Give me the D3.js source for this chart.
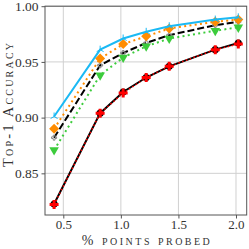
<!DOCTYPE html>
<html lang="en">
<head>
    <meta charset="UTF-8">
    <title>Top-1 accuracy</title>
    <style>
        body{
            margin: 0;
            background-color: #fff;
        }
        svg text{
            font-family: "Liberation Serif", "DejaVu Serif", serif;
            fill: #222;
        }
        .axis path{
            stroke: #555;
        }
        .axis line{
            stroke: #555;
        }
        .grid line{
            stroke: #d0d0d0;
            stroke-width: 1;
        }
    </style>
</head>
<body>

<div id="chart"></div>

<script src="https://cdn.jsdelivr.net/npm/d3@7/dist/d3.min.js"></script>
<script>
    // data
    var pointsProbed = [0.42, 0.82, 1.02, 1.22, 1.42, 1.82, 2.02];
    var cyanAcc = [0.901, 0.961, 0.971, 0.977, 0.982, 0.988, 0.990];
    var orangeAcc = [0.890, 0.953, 0.966, 0.973, 0.980, 0.986, 0.988];
    var dashedAcc = [0.882, 0.947, 0.958, 0.967, 0.974, 0.983, 0.986];
    var greenAcc = [0.871, 0.938, 0.954, 0.964, 0.971, 0.978, 0.981];
    var blackAcc = [0.8225, 0.904, 0.923, 0.936, 0.946, 0.961, 0.967];
    var redAcc = [0.822, 0.904, 0.922, 0.936, 0.946, 0.961, 0.966];
    var xTicks = [0.5, 1.0, 1.5, 2.0];
    var yTicks = [0.85, 0.90, 0.95, 1.00];

    var width = 249, height = 249;
    var mLeft = 45, mRight = 246.7, mTop = 6.2, mBottom = 215;

    var svg = d3.select('#chart')
        .append('svg')
        .attr('width', width)
        .attr('height', height);

    var xScale = d3.scaleLinear()
        .domain([0.341, 2.093])
        .range([mLeft, mRight]);

    var yScale = d3.scaleLinear()
        .domain([0.8126, 1.0])
        .range([mBottom, mTop]);

    // grid
    var grid = svg.append('g').attr('class', 'grid');

    grid.selectAll('line.gx')
        .data(xTicks)
        .enter().append('line')
        .attr('class', 'gx')
        .attr('x1', function(d){ return xScale(d); })
        .attr('x2', function(d){ return xScale(d); })
        .attr('y1', mTop).attr('y2', mBottom);

    grid.selectAll('line.gy')
        .data(yTicks)
        .enter().append('line')
        .attr('class', 'gy')
        .attr('y1', function(d){ return yScale(d); })
        .attr('y2', function(d){ return yScale(d); })
        .attr('x1', mLeft).attr('x2', mRight);

    function series(vals){
        return pointsProbed.map(function(x, i){ return [x, vals[i]]; });
    }

    var line = d3.line()
        .x(function(d){ return xScale(d[0]); })
        .y(function(d){ return yScale(d[1]); });

    function drawLine(vals, color, w, dash){
        svg.append('path')
            .datum(series(vals))
            .attr('d', line)
            .attr('fill', 'none')
            .attr('stroke', color)
            .attr('stroke-width', w)
            .attr('stroke-dasharray', dash || null);
    }

    function drawMarks(vals, symbol, size, fill, stroke, rot){
        svg.append('g')
            .selectAll('path')
            .data(series(vals))
            .enter().append('path')
            .attr('d', d3.symbol().type(symbol).size(size))
            .attr('transform', function(d){
                return 'translate(' + xScale(d[0]) + ',' + yScale(d[1]) + ')' + (rot ? ' rotate(' + rot + ')' : '');
            })
            .attr('fill', fill)
            .attr('stroke', stroke || 'none')
            .attr('stroke-width', 1);
    }

    // tri_up marker for the cyan series
    var triUp = {
        draw: function(context, size){
            var r = Math.sqrt(size) / 2;
            context.moveTo(0, 0); context.lineTo(0, -r);
            context.moveTo(0, 0); context.lineTo(-r * 0.87, r * 0.5);
            context.moveTo(0, 0); context.lineTo(r * 0.87, r * 0.5);
        }
    };

    // black dashed
    drawLine(dashedAcc, '#000', 2, '7,3');
    drawMarks(dashedAcc, d3.symbolCross, 14, 'none', '#888');

    // green dotted, down triangles
    drawLine(greenAcc, '#3ccc3c', 2, '2,3.3');
    drawMarks(greenAcc, d3.symbolTriangle, 40, '#3ccc3c', null, 180);

    // orange dotted, diamonds
    drawLine(orangeAcc, '#ff8c00', 2, '2,3.3');
    drawMarks(orangeAcc, d3.symbolSquare, 50, '#ff8c00', null, 45);

    // cyan solid
    drawLine(cyanAcc, '#1ab9f4', 2);
    svg.append('g')
        .selectAll('path')
        .data(series(cyanAcc))
        .enter().append('path')
        .attr('d', d3.symbol().type(triUp).size(64))
        .attr('transform', function(d){
            return 'translate(' + xScale(d[0]) + ',' + yScale(d[1]) + ')';
        })
        .attr('fill', 'none')
        .attr('stroke', '#1ab9f4')
        .attr('stroke-width', 1);

    // black solid, circles
    drawLine(blackAcc, '#000', 2);
    drawMarks(blackAcc, d3.symbolCircle, 40, '#000');

    // red dotted, filled plus
    drawLine(redAcc, '#ff0000', 1.5, '1.5,2.5');
    drawMarks(redAcc, d3.symbolCross, 45, '#ff0000');

    // axes
    var xAxis = d3.axisBottom(xScale)
        .tickValues(xTicks)
        .tickSize(3.5)
        .tickPadding(1.5)
        .tickFormat(d3.format('.1f'));

    var yAxis = d3.axisLeft(yScale)
        .tickValues(yTicks)
        .tickSize(3.5)
        .tickPadding(3)
        .tickFormat(d3.format('.2f'));

    svg.append('g')
        .attr('class', 'axis')
        .attr('transform', 'translate(0,' + mBottom + ')')
        .call(xAxis)
        .call(function(g){ g.select('.domain').remove(); })
        .selectAll('text')
        .attr('font-size', '13px')
        .style('fill', '#333');

    svg.append('g')
        .attr('class', 'axis')
        .attr('transform', 'translate(' + mLeft + ',0)')
        .call(yAxis)
        .call(function(g){ g.select('.domain').remove(); })
        .selectAll('text')
        .attr('font-size', '13.5px')
        .style('fill', '#333');

    // frame
    svg.append('rect')
        .attr('x', mLeft).attr('y', mTop)
        .attr('width', mRight - mLeft).attr('height', mBottom - mTop)
        .attr('fill', 'none')
        .attr('stroke', '#555')
        .attr('stroke-width', 1);

    // labels
    svg.append('text')
        .attr('x', (mLeft + mRight) / 2)
        .attr('y', 245)
        .attr('text-anchor', 'middle')
        .attr('font-size', '14px')
        .attr('textLength', 128)
        .attr('lengthAdjust', 'spacing')
        .style('font-variant', 'small-caps')
        .style('fill', '#333')
        .text('% points probed');

    svg.append('text')
        .attr('transform', 'translate(12.5,105) rotate(-90)')
        .attr('text-anchor', 'middle')
        .attr('font-size', '14.5px')
        .attr('textLength', 124)
        .attr('lengthAdjust', 'spacing')
        .style('font-variant', 'small-caps')
        .style('fill', '#333')
        .text('Top-1 Accuracy');
</script>

</body>
</html>
